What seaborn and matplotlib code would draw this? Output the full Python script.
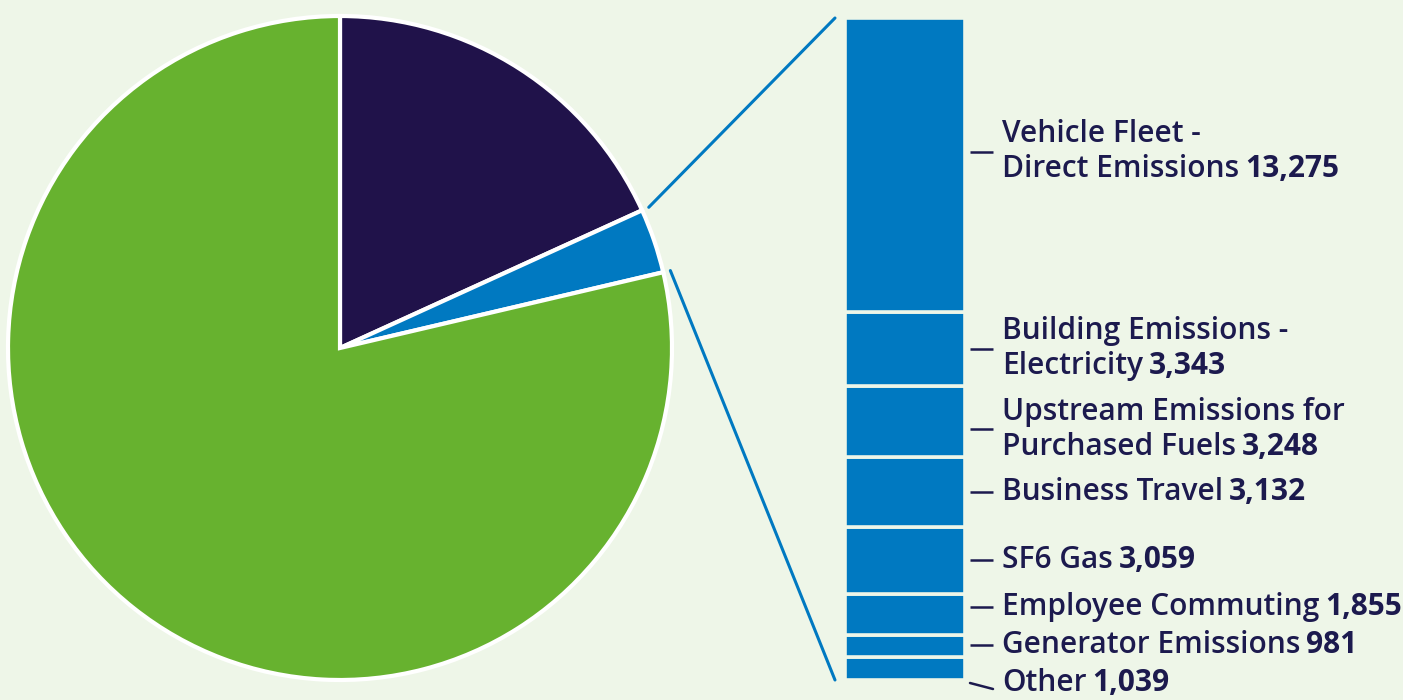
import numpy as np
import matplotlib
matplotlib.use("Agg")
import matplotlib.pyplot as plt
import matplotlib.transforms as mtransforms
from matplotlib.patches import ConnectionPatch
import seaborn as sns

# ---------------- data ----------------
breakdown_names = [
    "Vehicle Fleet -\nDirect Emissions",
    "Building Emissions -\nElectricity",
    "Upstream Emissions for\nPurchased Fuels",
    "Business Travel",
    "SF6 Gas",
    "Employee Commuting",
    "Generator Emissions",
    "Other",
]
breakdown_values = [13275, 3343, 3248, 3132, 3059, 1855, 981, 1039]
breakdown_value_labels = ["13,275", "3,343", "3,248", "3,132", "3,059", "1,855", "981", "1,039"]

pie_names = ["Scope A", "Breakdown", "Scope B"]
pie_values = [173400, sum(breakdown_values), 749700]

# ---------------- style ----------------
BG = "#EEF6E8"
NAVY = "#20124A"
BLUE = "#0079C1"
GREEN = "#67B22F"
TEXT = "#1C1A4E"

sns.set_theme(style="white")
plt.rcParams["font.family"] = ["Open Sans", "DejaVu Sans"]

W, H = 1403, 700
fig = plt.figure(figsize=(W / 100, H / 100), dpi=100, facecolor=BG)

# ---------------- pie ----------------
cx, cy, R = 340, 348, 332
ax_pie = fig.add_axes([(cx - R) / W, (H - cy - R) / H, 2 * R / W, 2 * R / H])
ax_pie.set_facecolor(BG)
wedges, _ = ax_pie.pie(
    pie_values,
    colors=[NAVY, BLUE, GREEN],
    startangle=90,
    counterclock=False,
    radius=1,
    wedgeprops=dict(edgecolor="white", linewidth=3),
)
ax_pie.set_xlim(-1, 1)
ax_pie.set_ylim(-1, 1)
ax_pie.set_aspect("equal")
ax_pie.axis("off")

# ---------------- stacked bar ----------------
bx0, bx1, by_top, by_bot = 845, 965, 18, 680
ax_bar = fig.add_axes([bx0 / W, (H - by_bot) / H, (bx1 - bx0) / W, (by_bot - by_top) / H])
ax_bar.set_facecolor(BG)
total = sum(breakdown_values)
order = list(range(len(breakdown_values)))[::-1]  # bottom-up: Other first
bottoms = {}
acc = 0
for i in order:
    bottoms[i] = acc
    acc += breakdown_values[i]
for i in order:
    ax_bar.bar([0], [breakdown_values[i]], bottom=bottoms[i], width=1.0,
               color=BLUE, edgecolor=BG, linewidth=2.6)
ax_bar.set_xlim(-0.5, 0.5)
ax_bar.set_ylim(0, total)
ax_bar.axis("off")

# ---------------- connector lines ----------------
blend = mtransforms.blended_transform_factory(ax_bar.transAxes, ax_bar.transData)
w_top = wedges[1]
for ang, yb in [(w_top.theta2, total), (w_top.theta1, 0)]:
    a = np.deg2rad(ang)
    r0 = 1.022
    con = ConnectionPatch(
        xyA=(r0 * np.cos(a), r0 * np.sin(a)), coordsA=ax_pie.transData,
        xyB=(-10 / (bx1 - bx0), yb), coordsB=blend,
        color=BLUE, linewidth=2.2,
    )
    fig.add_artist(con)

# ---------------- labels ----------------
# layout: pixel offsets of the leader relative to segment centre (+ = up)
leader_offsets = [13, 0, -8, 0, 0, 8, 1, 0]
line_gap = 35
lx0 = (970 - bx0) / (bx1 - bx0)
lx1 = (993 - bx0) / (bx1 - bx0)
tx = (1002 - bx0) / (bx1 - bx0)
fs = 21.5
fw = 600

fig.canvas.draw()
for i, (name, val) in enumerate(zip(breakdown_names, breakdown_value_labels)):
    yc = bottoms[i] + breakdown_values[i] / 2
    dy = leader_offsets[i]
    if name == "Other":
        # slanted leader going below the bar
        t_a = mtransforms.offset_copy(blend, fig=fig, y=-3, units="dots")
        t_b = mtransforms.offset_copy(blend, fig=fig, y=-9, units="dots")
        p0 = t_a.transform((lx0, 0))
        p1 = t_b.transform((lx1, 0))
        fig.add_artist(plt.Line2D([p0[0] / W, p1[0] / W], [p0[1] / H, p1[1] / H],
                                  transform=fig.transFigure, color=TEXT, lw=1.8))
        base = mtransforms.offset_copy(blend, fig=fig, y=-3, units="dots")
        lines = [name]
        anchor_y = 0
    else:
        tr = mtransforms.offset_copy(blend, fig=fig, y=dy, units="dots")
        ax_bar.plot([lx0, lx1], [yc, yc], transform=tr, color=TEXT, lw=1.8,
                    clip_on=False, solid_capstyle="butt")
        lines = name.split("\n")
        base = tr
        anchor_y = yc
    n = len(lines)
    for k, ln in enumerate(lines):
        off = ((n - 1) / 2 - k) * line_gap
        t_tr = mtransforms.offset_copy(base, fig=fig, y=off, units="dots")
        t = ax_bar.text(tx, anchor_y, ln, transform=t_tr, ha="left", va="center",
                        fontsize=fs, fontweight=fw, color=TEXT, clip_on=False)
        if k == n - 1:
            ax_bar.annotate(val, xy=(1, 0.5), xycoords=t, xytext=(6, 0),
                            textcoords="offset pixels", ha="left", va="center",
                            fontsize=fs, fontweight="bold", color=TEXT,
                            annotation_clip=False)

fig.savefig("out.png", dpi=100, facecolor=BG)
